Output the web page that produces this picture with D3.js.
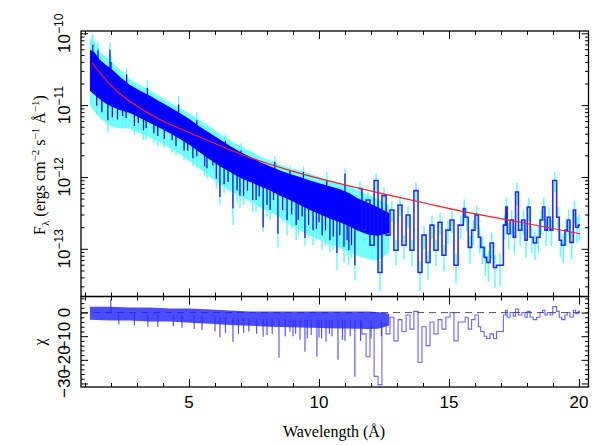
<!DOCTYPE html>
<html>
<head>
<meta charset="utf-8">
<script src="https://d3js.org/d3.v7.min.js"></script>
<style>
  body { margin: 0; background: #fff; }
  svg { display: block; }
  .ticklab { font-family: "Liberation Sans", Arial, Helvetica, sans-serif; font-size: 17px; fill: #000; }
  .title { font-family: "Liberation Serif", "Times New Roman", serif; font-size: 16px; fill: #000; }
</style>
</head>
<body>
<svg id="chart" width="598" height="445"></svg>
<script>
// ---- data (wavelength in Angstrom, flux as log10 ergs/cm2/s/A) ----
var modelWave = [1.27, 1.96, 2.73, 3.88, 5.00, 5.77, 7.35, 9.27, 11.58, 14.27, 15.81, 17.73, 20.04];
var modelFlux = [-10.41, -10.71, -10.95, -11.20, -11.38, -11.50, -11.73, -11.95, -12.16, -12.38, -12.50, -12.63, -12.79];

// unresolved dense part of the spectrum: core of the data (blue) and envelope of its errors (cyan)
var bandWave = [1.19, 1.38, 1.58, 1.77, 1.96, 2.15, 2.35, 2.73, 3.12, 3.50, 3.88, 4.27, 4.65, 5.04, 5.42, 5.81,
  6.19, 6.58, 6.96, 7.35, 7.73, 8.12, 8.50, 8.88, 9.27, 9.65, 10.04, 10.42, 10.81, 11.19, 11.50, 11.88, 12.27, 12.70];
var bandHi = [-10.23, -10.27, -10.37, -10.43, -10.48, -10.54, -10.61, -10.72, -10.80, -10.87, -10.95, -11.03, -11.11,
  -11.20, -11.30, -11.39, -11.48, -11.57, -11.65, -11.72, -11.79, -11.85, -11.91, -11.96, -12.00, -12.05, -12.09,
  -12.13, -12.17, -12.23, -12.30, -12.36, -12.42, -12.50];
var bandLo = [-10.80, -10.86, -10.92, -10.97, -11.01, -11.04, -11.07, -11.11, -11.18, -11.25, -11.32, -11.39, -11.47,
  -11.56, -11.66, -11.76, -11.85, -11.93, -12.01, -12.07, -12.13, -12.19, -12.26, -12.32, -12.39, -12.46, -12.52,
  -12.58, -12.63, -12.69, -12.75, -12.80, -12.82, -12.78];
var haloHi = [-10.05, -10.12, -10.26, -10.32, -10.37, -10.44, -10.51, -10.64, -10.72, -10.79, -10.88, -10.96, -11.04,
  -11.12, -11.21, -11.30, -11.40, -11.49, -11.57, -11.64, -11.71, -11.77, -11.83, -11.88, -11.91, -11.95, -12.00,
  -12.05, -12.10, -12.13, -12.19, -12.25, -12.31, -12.40];
var haloLo = [-11.01, -11.10, -11.18, -11.24, -11.29, -11.31, -11.32, -11.33, -11.39, -11.45, -11.52, -11.60, -11.68,
  -11.78, -11.89, -12.00, -12.10, -12.19, -12.27, -12.34, -12.42, -12.49, -12.56, -12.66, -12.74, -12.81, -12.88,
  -12.94, -12.99, -13.05, -13.10, -13.14, -13.16, -13.05];

// single lines standing out of the dense part (blue tip, cyan error tip)
var lineWave = [1.30, 1.88, 1.96, 2.58, 3.35, 4.35, 4.81, 5.46, 5.69, 5.92, 6.19, 6.69, 6.96, 7.58, 7.85, 8.12, 8.42,
  8.77, 8.88, 9.12, 9.46, 9.77, 10.12, 10.42, 10.69, 10.96, 11.00, 11.15, 11.38,
  1.45, 1.65, 2.05, 2.25, 2.45, 2.90, 3.05, 3.25, 3.65, 3.80, 4.05, 4.50, 4.95, 5.15, 5.30, 5.60, 6.05, 6.35, 6.50,
  6.85, 7.10, 7.25, 7.45, 7.70, 8.00, 8.25, 8.60, 8.95, 9.20, 9.35, 9.60, 9.90, 10.00, 10.25, 10.55, 10.80, 11.08,
  11.25,
  1.50, 2.00, 2.60, 3.40, 4.60, 5.30, 6.40, 7.00, 8.30, 9.40, 10.30];
var lineFlux = [-10.16, -11.21, -10.23, -11.18, -11.32, -11.49, -11.63, -11.66, -11.88, -11.84, -12.28, -12.44, -12.26,
  -12.32, -12.70, -12.46, -12.79, -12.60, -11.91, -12.67, -12.85, -12.74, -12.81, -12.88, -13.06, -12.97, -11.95,
  -13.02, -13.23,
  -11.01, -11.10, -11.17, -11.20, -11.15, -11.29, -11.25, -11.35, -11.39, -11.43, -11.47, -11.57, -11.63, -11.74,
  -11.71, -11.85, -12.02, -12.10, -12.07, -12.19, -12.26, -12.19, -12.32, -12.27, -12.39, -12.32, -12.46, -12.52,
  -12.60, -12.55, -12.67, -12.72, -12.63, -12.74, -12.83, -12.81, -12.88, -12.95,
  -10.23, -10.40, -10.57, -10.76, -10.99, -11.21, -11.50, -11.63, -11.79, -11.93, -12.05];
var lineErr = [-10.02, -11.38, -10.12, -11.32, -11.49, -11.66, -11.77, -11.81, -12.02, -11.93, -12.39, -12.67, -12.44,
  -12.49, -12.77, -12.60, -12.98, -12.81, -11.84, -12.88, -12.95, -12.95, -13.02, -13.05, -13.30, -13.19, -11.88,
  -13.23, -13.44,
  -11.13, -11.21, -11.26, -11.32, -11.31, -11.42, -11.36, -11.49, -11.52, -11.57, -11.60, -11.70, -11.77, -11.85,
  -11.88, -11.98, -12.16, -12.23, -12.19, -12.37, -12.39, -12.32, -12.49, -12.41, -12.55, -12.49, -12.63, -12.72,
  -12.81, -12.72, -12.85, -12.88, -12.83, -12.95, -13.02, -12.97, -13.09, -13.13,
  -10.12, -10.32, -10.48, -10.65, -10.87, -11.10, -11.40, -11.53, -11.71, -11.85, -11.93];

// binned long-wavelength part: bin edges, flux, relative error, residual chi
var stepEdge = [11.50, 11.65, 11.81, 11.96, 12.12, 12.27, 12.42, 12.58, 12.73, 12.88, 13.04, 13.19, 13.35, 13.50,
  13.65, 13.81, 13.96, 14.12, 14.27, 14.42, 14.58, 14.73, 14.88, 15.04, 15.19, 15.35, 15.55, 15.62, 15.74, 15.87,
  16.00, 16.13, 16.22, 16.35, 16.45, 16.58, 16.71, 16.83, 17.09, 17.18, 17.24, 17.35, 17.47, 17.56, 17.67, 17.80,
  17.92, 18.01, 18.12, 18.24, 18.37, 18.50, 18.60, 18.69, 18.78, 18.89, 18.99, 19.14, 19.24, 19.33, 19.46, 19.55,
  19.65, 19.78, 19.87, 19.97, 20.04];
var stepFlux = [-12.16, -12.74, -12.32, -12.95, -12.05, -13.33, -12.26, -12.81, -12.46, -13.02, -12.39, -12.95, -12.53,
  -13.02, -12.19, -13.33, -12.81, -13.19, -12.67, -13.02, -12.63, -13.09, -12.74, -12.60, -13.23, -12.67,
  -12.44, -12.56, -12.98, -12.74, -12.53, -12.84, -12.98, -13.12, -13.19, -12.92, -13.26, -13.23, -12.67, -12.42,
  -12.79, -12.60, -12.84, -12.21, -12.74, -12.60, -12.88, -12.42, -12.84, -12.92, -12.84, -12.60, -12.42, -12.74,
  -12.56, -12.74, -12.05, -12.56, -12.88, -12.95, -12.74, -12.60, -12.91, -12.46, -12.70, -12.67];
var stepErr = [0.28, 0.35, 0.3, 0.38, 0.27, 0.45, 0.3, 0.36, 0.32, 0.38, 0.3, 0.37, 0.33, 0.4, 0.3, 0.45, 0.36, 0.42,
  0.34, 0.4, 0.33, 0.4, 0.36, 0.34, 0.44, 0.36,
  0.35, 0.36, 0.42, 0.38, 0.36, 0.4, 0.42, 0.45, 0.46, 0.4, 0.48, 0.48, 0.38, 0.35, 0.4, 0.38, 0.4, 0.34, 0.4, 0.38,
  0.42, 0.36, 0.4, 0.42, 0.4, 0.38, 0.36, 0.4, 0.38, 0.4, 0.3, 0.38, 0.42, 0.44, 0.4, 0.38, 0.42, 0.36, 0.4, 0.4];
var stepChi = [-4, -9, -18.7, -6, -27, -30.5, -5, -9, -2, -12, -3, -8, -1, -7, 0.5, -21, -6, -14, -4, -9, -3, -7, -2, 0,
  -12, -4,
  -4, -2, -7, -3, -1, -6, -8, -10, -11, -9, -11, -8, -1, 1, -2, 0, -1.5, 1.5, -1, 0, -2, 0.5, -2, -3, -2, 0, 1, -1,
  0, -1, 2.5, 0.5, -2, -3, -1, 0, -2, 1, -0.5, 0.5];

// residuals of the dense part
var chiBandWave = [1.19, 1.96, 2.73, 3.50, 4.27, 5.04, 5.81, 6.58, 7.35, 8.12, 8.88, 9.65, 10.42, 11.50, 11.88, 12.27, 12.70];
var chiBandHi = [2.5, 2.5, 2.1, 2.1, 1.7, 1.7, 1.3, 0.9, 0.4, 0.4, 0.4, 0.4, 0.4, 0.4, 0.4, 0.2, -0.5];
var chiBandLo = [-3.0, -3.4, -3.4, -3.8, -3.8, -4.3, -4.7, -5.3, -5.6, -6.0, -6.2, -6.4, -6.6, -6.8, -7.0, -6.8, -5.5];
var chiLineWave = [1.99, 3.42, 4.73, 5.20, 6.00, 6.19, 6.69, 7.10, 7.60, 7.85, 8.20, 8.46, 8.88, 9.00, 9.27, 9.46, 9.70,
  9.92, 10.10, 10.27, 10.50, 10.73, 11.00, 11.20, 11.38,
  2.30, 2.90, 3.80, 4.40, 5.50, 6.40, 6.90, 7.30, 8.00, 8.70, 9.10, 9.55, 10.00, 10.40, 10.90, 11.60, 12.00, 12.40];
var chiLineVal = [5.5, -6, -6.4, -7, -8, -10.6, -12.3, -8.5, -9, -10.2, -9, -19.1, -8.1, -10, -11.5, -16.6, -9.5,
  -18.7, -11, -12.3, -10, -20.0, -12, -10, -27.2,
  -5, -5.5, -6, -5.8, -7.5, -8.5, -9, -8, -9.5, -10, -9, -11, -10.5, -9, -11.5, -12, -11, -10];

var majorX = [5, 10, 15, 20];
var decades = [-13, -12, -11, -10];
var chiMajor = [-30, -20, -10, 0];

// ---- layout ----
var L = 81, R = 588.5, T = 31, M = 296.5, B = 387;
function p(v) { return Math.pow(10, v); }

var x = d3.scaleLinear().domain([0.846, 20.365]).range([L, R]);
var y = d3.scaleLog().domain([p(-13.664), p(-9.968)]).range([M, T]);
var yc = d3.scaleLinear().domain([-31.5, 6.8]).range([B, M]);

var svg = d3.select("#chart");
var defs = svg.append("defs");
defs.append("clipPath").attr("id", "clipTop").append("rect")
  .attr("x", L).attr("y", T).attr("width", R - L).attr("height", M - T);
defs.append("clipPath").attr("id", "clipBot").append("rect")
  .attr("x", L).attr("y", M).attr("width", R - L).attr("height", B - M);

// ---- top panel ----
var gTop = svg.append("g").attr("clip-path", "url(#clipTop)");
var band = bandWave.map(function(w, i) {
  return { w: w, hi: bandHi[i], lo: bandLo[i], eh: haloHi[i], el: haloLo[i] };
});
var bandMid = d3.scaleLinear().domain(bandWave)
  .range(bandWave.map(function(w, i) { return (bandHi[i] + bandLo[i]) / 2; }));
var lines = lineWave.map(function(w, i) { return { w: w, f: lineFlux[i], e: lineErr[i] }; });
var steps = stepFlux.map(function(f, i) {
  return { w0: stepEdge[i], w1: stepEdge[i + 1], f: f, e: stepErr[i], c: stepChi[i] };
});

var cyan = "#5effff", blue = "#0000ff";

// cyan errors first
gTop.append("path").datum(band)
  .attr("d", d3.area()
    .x(function(d) { return x(d.w); })
    .y0(function(d) { return y(p(d.el)); })
    .y1(function(d) { return y(p(d.eh)); }))
  .attr("fill", cyan).attr("opacity", 0.85);

gTop.selectAll(".lerr").data(lines).enter().append("line")
  .attr("x1", function(d) { return x(d.w); })
  .attr("x2", function(d) { return x(d.w); })
  .attr("y1", function(d) { return y(p(bandMid(d.w))); })
  .attr("y2", function(d) { return y(p(d.e)); })
  .attr("stroke", cyan).attr("stroke-width", 1.4);

gTop.selectAll(".serr").data(steps).enter().append("line")
  .attr("x1", function(d) { return x((d.w0 + d.w1) / 2); })
  .attr("x2", function(d) { return x((d.w0 + d.w1) / 2); })
  .attr("y1", function(d) { return y(p(d.f) * (1 + d.e)); })
  .attr("y2", function(d) { return y(p(d.f) * (1 - d.e)); })
  .attr("stroke", cyan).attr("stroke-width", 1.5);

// blue data
gTop.append("path").datum(band)
  .attr("d", d3.area()
    .x(function(d) { return x(d.w); })
    .y0(function(d) { return y(p(d.lo)); })
    .y1(function(d) { return y(p(d.hi)); }))
  .attr("fill", blue);

gTop.selectAll(".lval").data(lines).enter().append("line")
  .attr("x1", function(d) { return x(d.w); })
  .attr("x2", function(d) { return x(d.w); })
  .attr("y1", function(d) { return y(p(bandMid(d.w))); })
  .attr("y2", function(d) { return y(p(d.f)); })
  .attr("stroke", blue).attr("stroke-width", 1.2);

var stepPts = steps.map(function(d) { return [d.w0, d.f]; });
stepPts.push([stepEdge[stepEdge.length - 1], stepFlux[stepFlux.length - 1]]);
gTop.append("path").datum(stepPts)
  .attr("d", d3.line()
    .x(function(d) { return x(d[0]); })
    .y(function(d) { return y(p(d[1])); })
    .curve(d3.curveStepAfter))
  .attr("fill", "none").attr("stroke", "#1414ff").attr("stroke-width", 1.6).attr("opacity", 0.9);

// model
gTop.append("path").datum(modelWave.map(function(w, i) { return [w, modelFlux[i]]; }))
  .attr("d", d3.line()
    .x(function(d) { return x(d[0]); })
    .y(function(d) { return y(p(d[1])); })
    .curve(d3.curveNatural))
  .attr("fill", "none").attr("stroke", "#ff1a1a").attr("stroke-width", 1.2);

// ---- residual panel ----
var gBot = svg.append("g").attr("clip-path", "url(#clipBot)");
gBot.append("line")
  .attr("x1", L).attr("x2", R).attr("y1", yc(0)).attr("y2", yc(0))
  .attr("stroke", "#555").attr("stroke-width", 1).attr("stroke-dasharray", "7,5");

var chiBand = chiBandWave.map(function(w, i) { return { w: w, hi: chiBandHi[i], lo: chiBandLo[i] }; });
var chiMid = d3.scaleLinear().domain(chiBandWave)
  .range(chiBandWave.map(function(w, i) { return (chiBandHi[i] + chiBandLo[i]) / 2; }));

gBot.append("path").datum(chiBand)
  .attr("d", d3.area()
    .x(function(d) { return x(d.w); })
    .y0(function(d) { return yc(d.lo); })
    .y1(function(d) { return yc(d.hi); }))
  .attr("fill", "#1f1fff").attr("opacity", 0.8);

gBot.selectAll(".cl").data(chiLineWave).enter().append("line")
  .attr("x1", function(d) { return x(d); })
  .attr("x2", function(d) { return x(d); })
  .attr("y1", function(d) { return yc(chiMid(d)); })
  .attr("y2", function(d, i) { return yc(chiLineVal[i]); })
  .attr("stroke", "#2a2aff").attr("stroke-width", 1.1).attr("opacity", 0.85);

var chiPts = steps.map(function(d) { return [d.w0, d.c]; });
chiPts.push([stepEdge[stepEdge.length - 1], stepChi[stepChi.length - 1]]);
gBot.append("path").datum(chiPts)
  .attr("d", d3.line()
    .x(function(d) { return x(d[0]); })
    .y(function(d) { return yc(d[1]); })
    .curve(d3.curveStepAfter))
  .attr("fill", "none").attr("stroke", "#3333ff").attr("stroke-width", 1.1).attr("opacity", 0.75);

// ---- frames and ticks ----
function tickRow(pos, axis, vals, size) {
  var g = svg.append("g").attr("transform", pos)
    .call(axis.tickValues(vals).tickSize(size).tickFormat(""));
  g.select(".domain").remove();
  g.selectAll(".tick line").attr("stroke", "#000").attr("stroke-width", 1);
}
var minorX = d3.range(1, 21).filter(function(v) { return majorX.indexOf(v) < 0; });
[["translate(0," + T + ")", d3.axisBottom], ["translate(0," + M + ")", d3.axisTop],
 ["translate(0," + M + ")", d3.axisBottom], ["translate(0," + B + ")", d3.axisTop]].forEach(function(a) {
  tickRow(a[0], a[1](x), majorX, 8);
  tickRow(a[0], a[1](x), minorX, 4);
});

var logMajor = decades.map(p);
var logMinor = y.ticks().filter(function(v) {
  var m = v / Math.pow(10, Math.floor(Math.log10(v) + 1e-9));
  return Math.abs(m - 1) > 1e-6;
});
tickRow("translate(" + L + ",0)", d3.axisRight(y), logMajor, 7);
tickRow("translate(" + L + ",0)", d3.axisRight(y), logMinor, 3.5);
tickRow("translate(" + R + ",0)", d3.axisLeft(y), logMajor, 7);
tickRow("translate(" + R + ",0)", d3.axisLeft(y), logMinor, 3.5);

var chiMinor = d3.range(-30, 7, 2).filter(function(v) { return chiMajor.indexOf(v) < 0; });
tickRow("translate(" + L + ",0)", d3.axisRight(yc), chiMajor, 7);
tickRow("translate(" + L + ",0)", d3.axisRight(yc), chiMinor, 3.5);
tickRow("translate(" + R + ",0)", d3.axisLeft(yc), chiMajor, 7);
tickRow("translate(" + R + ",0)", d3.axisLeft(yc), chiMinor, 3.5);

svg.append("rect").attr("x", L).attr("y", T).attr("width", R - L).attr("height", M - T)
  .attr("fill", "none").attr("stroke", "#000").attr("stroke-width", 1.3);
svg.append("rect").attr("x", L).attr("y", M).attr("width", R - L).attr("height", B - M)
  .attr("fill", "none").attr("stroke", "#000").attr("stroke-width", 1.3);

// ---- tick labels ----
var labs = svg.append("g").attr("class", "ticklab");
majorX.forEach(function(v) {
  labs.append("text").attr("x", x(v)).attr("y", 408).attr("text-anchor", "middle").text(v);
});
decades.forEach(function(d) {
  var t = labs.append("text")
    .attr("transform", "translate(70," + y(p(d)) + ") rotate(-90)")
    .attr("text-anchor", "middle");
  t.append("tspan").text("10");
  t.append("tspan").attr("dy", -7).attr("font-size", 12).text("\u2212" + Math.abs(d));
});
chiMajor.forEach(function(v) {
  labs.append("text")
    .attr("transform", "translate(70," + yc(v) + ") rotate(-90)")
    .attr("text-anchor", "middle")
    .text(v < 0 ? "\u2212" + Math.abs(v) : v);
});

// ---- axis titles ----
svg.append("text").attr("class", "title").attr("x", 334).attr("y", 437)
  .attr("text-anchor", "middle").attr("font-size", 17).text("Wavelength (\u00c5)");

var yt = svg.append("text").attr("class", "title")
  .attr("transform", "translate(45,165) rotate(-90)").attr("text-anchor", "middle");
yt.append("tspan").text("F");
yt.append("tspan").attr("dy", 4).attr("font-size", 11).text("\u03bb");
yt.append("tspan").attr("dy", -4).text(" (ergs cm");
yt.append("tspan").attr("dy", -6).attr("font-size", 11).text("\u22122");
yt.append("tspan").attr("dy", 6).text(" s");
yt.append("tspan").attr("dy", -6).attr("font-size", 11).text("\u22121");
yt.append("tspan").attr("dy", 6).text(" \u00c5");
yt.append("tspan").attr("dy", -6).attr("font-size", 11).text("\u22121");
yt.append("tspan").attr("dy", 6).text(")");

svg.append("text").attr("class", "title").attr("font-size", 18)
  .attr("transform", "translate(45,342) rotate(-90)").attr("text-anchor", "middle").text("\u03c7");
</script>
</body>
</html>
